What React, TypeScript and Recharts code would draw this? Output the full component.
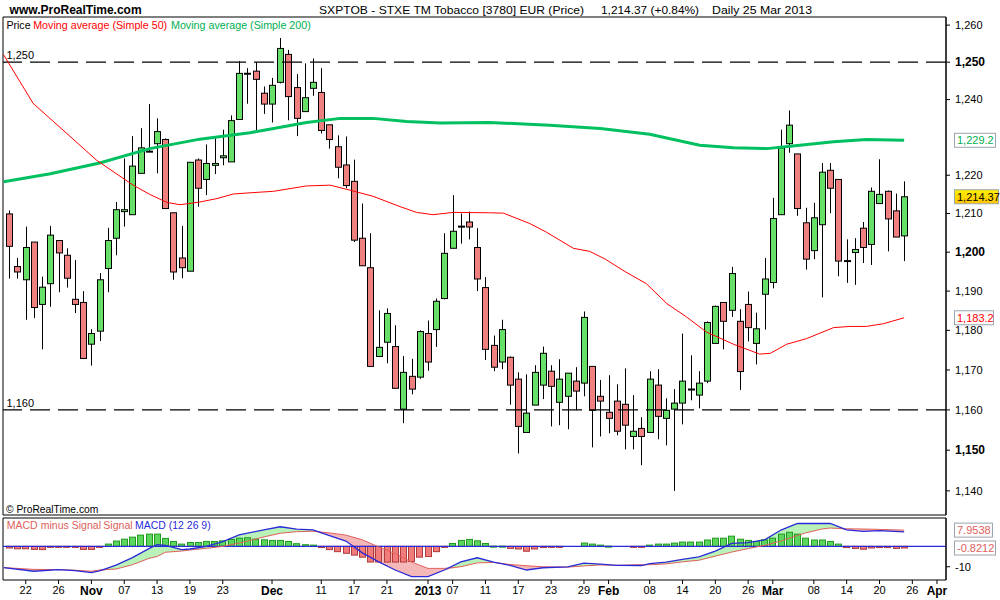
import React from 'react';
import { ComposedChart, Bar, Line, Area, XAxis, YAxis, ReferenceLine, ReferenceArea } from 'recharts';

// ---------- data ----------
const OPENS = [1209.9,1196.3,1192.9,1202.6,1186.6,1191.9,1203.0,1199.2,1187.9,1187.1,
1176.5,1179.8,1195.8,1203.6,1210.5,1209.7,1220.5,1226.2,1228.3,1229.4,
1210.2,1198.5,1195.1,1224.0,1218.9,1222.6,1224.6,1223.5,1234.7,1246.9,
1247.6,1241.7,1238.8,1244.6,1252.1,1243.2,1236.8,1243.0,1241.9,1233.3,
1227.5,1222.7,1218.4,1203.6,1196.0,1173.4,1177.0,1175.9,1160.2,1168.4,
1168.2,1179.2,1180.2,1188.1,1201.0,1206.6,1207.8,1201.2,1190.9,1176.2,
1172.0,1173.2,1167.7,1154.4,1161.2,1166.2,1169.7,1161.9,1163.4,1167.2,
1166.7,1170.9,1163.4,1159.4,1162.2,1161.4,1153.4,1155.4,1154.4,1166.2,
1157.9,1160.2,1161.7,1165.1,1163.7,1167.2,1176.7,1187.1,1185.1,1182.3,
1186.6,1176.7,1189.2,1192.2,1209.7,1228.3,1225.6,1207.6,1200.4,1207.1,
1221.3,1218.9,1197.7,1199.9,1206.2,1202.0,1212.6,1215.8,1210.7,1204.2];
const HIGHS = [1210.8,1198.5,1206.6,1202.6,1193.7,1206.8,1203.0,1201.0,1198.0,1190.0,
1180.3,1194.6,1206.3,1213.0,1224.4,1230.3,1232.4,1238.8,1235.0,1229.7,
1210.2,1206.8,1223.4,1224.4,1228.1,1230.2,1232.0,1235.8,1250.3,1248.4,
1250.0,1243.5,1245.8,1256.5,1253.3,1246.8,1249.7,1251.0,1248.4,1233.3,
1230.5,1230.2,1224.1,1212.6,1204.9,1185.1,1185.6,1181.3,1173.5,1172.8,
1180.0,1182.5,1188.1,1204.9,1214.8,1210.0,1210.5,1206.2,1193.6,1178.7,
1182.7,1173.4,1169.4,1168.9,1171.2,1175.9,1171.2,1172.7,1169.2,1170.7,
1184.8,1170.9,1167.5,1168.7,1166.4,1170.4,1163.7,1158.2,1169.7,1170.2,
1162.9,1165.2,1179.2,1173.7,1169.7,1182.3,1186.3,1187.1,1196.2,1185.4,
1189.9,1184.5,1198.5,1214.1,1232.0,1237.1,1225.6,1211.5,1212.8,1223.2,
1223.2,1218.9,1203.3,1203.6,1207.8,1216.8,1224.2,1216.0,1215.2,1218.4];
const LOWS = [1193.2,1193.2,1182.7,1183.1,1175.2,1186.0,1189.7,1190.9,1184.4,1172.9,
1171.1,1177.3,1189.7,1199.2,1206.6,1209.7,1220.5,1226.2,1220.5,1211.3,
1192.9,1193.3,1195.1,1211.8,1214.8,1220.3,1222.6,1223.5,1234.7,1238.9,
1231.9,1236.2,1233.9,1244.3,1234.5,1230.3,1236.8,1241.0,1231.0,1227.0,
1219.2,1216.6,1202.6,1196.5,1170.9,1173.4,1171.7,1165.4,1156.7,1163.9,
1167.8,1169.8,1175.8,1187.9,1201.0,1202.2,1203.3,1190.0,1172.5,1169.7,
1170.2,1161.3,1149.2,1154.4,1161.2,1162.7,1155.9,1156.2,1155.2,1159.9,
1163.4,1150.7,1153.4,1154.2,1153.7,1150.2,1150.2,1146.3,1154.4,1152.7,
1151.2,1140.0,1156.4,1162.4,1160.4,1166.7,1176.7,1175.2,1183.4,1165.0,
1177.2,1171.4,1180.2,1190.7,1209.7,1225.9,1209.4,1195.5,1198.2,1188.4,
1210.1,1193.8,1192.1,1191.6,1197.2,1196.7,1212.6,1200.2,1203.9,1197.7];
const CLOSES = [1201.5,1194.9,1201.2,1185.8,1191.0,1204.4,1199.8,1193.3,1186.6,1172.9,
1179.2,1192.9,1203.0,1211.0,1211.0,1222.4,1227.2,1226.2,1231.5,1211.3,
1194.9,1196.0,1223.4,1216.6,1223.1,1223.1,1225.1,1234.4,1247.0,1246.9,
1245.4,1238.8,1243.8,1253.7,1240.8,1235.0,1240.5,1244.6,1231.8,1229.4,
1222.1,1217.3,1203.1,1196.5,1170.9,1175.7,1184.3,1165.4,1169.4,1165.2,
1179.7,1172.0,1187.4,1199.7,1205.4,1206.6,1206.5,1193.1,1175.2,1170.7,
1180.2,1166.2,1155.9,1159.2,1169.4,1174.2,1165.9,1167.7,1169.2,1164.7,
1183.3,1159.9,1162.2,1157.9,1154.7,1156.2,1154.7,1153.4,1167.7,1158.4,
1159.9,1161.7,1167.2,1165.1,1166.7,1182.0,1186.1,1182.3,1194.5,1169.6,
1180.7,1180.4,1193.1,1208.7,1227.2,1233.2,1211.3,1198.2,1208.9,1220.8,
1216.6,1197.7,1197.7,1200.7,1201.2,1215.8,1215.0,1208.6,1203.9,1214.37];

const SMA50_IDX = [-0.7,2.9,7.0,10.6,13.1,15.1,17.1,19.2,20.8,23.2,25.3,27.3,29.3,32.2,36.2,39.1,41.5,44.3,47.6,49.6,51.6,54.1,58.5,60.2,63.4,65.4,68.7,70.7,72.6,75.0,77.6,80.1,82.5,84.9,88.2,91.4,92.7,94.7,97.1,100.4,102.4,104.4,106.5,109];
const SMA50_VAL = [1252,1239,1231,1224,1220.3,1217.4,1215,1212.9,1212.3,1213,1213.9,1215.1,1215.4,1215.8,1217.2,1217.4,1216.1,1214.5,1211.8,1210.3,1209.7,1210.3,1210.2,1210.1,1207.4,1205.2,1201,1200.2,1198.2,1195,1191.9,1186.8,1183.4,1179.6,1176.5,1174,1174.2,1176.5,1177.9,1180.7,1181,1181,1181.7,1183.2];

const SMA200_IDX = [-0.7,5.0,11.0,17.1,23.2,29.3,32.2,36.2,40.3,44.3,48.4,52.5,58.5,65.8,72.0,78.0,84.1,88.2,92.3,96.3,100.4,104.4,109];
const SMA200_VAL = [1218.3,1220.4,1223.2,1227,1229.5,1231.2,1232.3,1233.9,1235,1235,1234.2,1233.8,1233.9,1233.2,1232.3,1230.8,1227.9,1227.2,1227,1227.9,1228.8,1229.4,1229.2];

const HIST = [-0.8,-1.2,-1.2,-1.5,-1.6,-0.5,-0.1,-0.1,-0.5,-1.5,
-1.5,-0.5,1.1,2.6,3.5,4.5,5.5,6.0,6.0,3.9,
2.4,1.1,1.9,1.9,2.4,2.4,2.7,3.4,4.0,4.2,
3.5,3.2,2.9,2.9,2.4,1.3,0.8,0.6,-0.6,-1.6,
-2.6,-3.4,-4.3,-5.3,-7.7,-7.7,-7.7,-7.7,-7.7,-7.4,
-5.3,-5.0,-2.6,-0.3,1.4,2.9,3.4,2.7,1.4,0.1,
0.1,-1.0,-1.3,-2.4,-1.3,-0.6,-0.5,-0.5,0,0,
1.6,1.1,0.6,0.1,0,0,-0.5,-0.5,0.6,1.1,
1.1,1.6,2.1,2.1,2.1,3.1,4.0,4.0,5.0,3.5,
2.9,2.4,3.2,4.0,6.0,6.9,6.0,4.0,3.1,3.1,
2.4,1.1,-0.6,-1.0,-1.4,-0.8,-0.6,-0.6,-1.0,-0.82];

const MACD_IDX = [-0.7,3,6,8,10,11,13,15,17,18,19,21,22,24,26,28,31,33,35,37,39,41,43,45,47,49,51,53,55,57,59,61,63,65,68,70,72,74,77,78,80,82,84,86,88,90,92,94,96,97,99,100,102,104,106,109];
const MACD_VAL = [-10.4,-12.2,-11.4,-11.9,-12.9,-12.0,-9.2,-5.5,-1.1,0.8,0.5,-1.6,-1.3,0.0,2.3,5.6,8.1,9.6,8.4,8.1,5.3,2.6,-3.2,-7.6,-11.6,-14.8,-14.8,-11.6,-7.6,-5.6,-7.7,-9.3,-11.6,-10.5,-10.1,-8.2,-8.7,-9.3,-9.4,-8.5,-7.7,-6.4,-5.2,-2.3,1.5,1.8,3.2,8.0,11.3,11.2,11.3,11.2,8.1,7.3,7.7,7.13];
const SIGNAL_VAL = [-10.4,-11.3,-11.4,-11.7,-12.2,-11.6,-11.1,-9.0,-5.9,-5.0,-2.9,-2.3,-1.8,-1.0,0.0,1.6,4.6,6.4,7.2,7.4,6.6,5.5,3.2,-0.3,-3.5,-7.7,-10.8,-10.8,-10.0,-8.1,-7.9,-8.9,-9.5,-10.0,-10.2,-9.6,-9.1,-9.3,-9.0,-9.0,-8.6,-7.6,-6.8,-4.8,-2.8,-1.1,0.5,2.6,5.3,6.6,8.5,9.0,8.6,8.5,8.3,7.95];

// 1,230 is hidden behind the 1,229.2 value box in the reference
const PRICE_TICKS = [1140,1150,1160,1170,1180,1190,1200,1210,1220,1240,1250,1260];
const MACD_TICKS = [-10];
const X_TICK_IDX = [2,6,10,14,18,22,26,32,38,42,46,51,54,58,62,66,70,73,78,82,86,90,93,98,102,106,110,113];
const X_TICK_LABELS = ['22','26','Nov','07','13','19','23','Dec','11','17','21','2013','07','11','17','23','29','Feb','08','14','20','26','Mar','08','14','20','26','Apr'];
const BOLD_LABELS = ['Nov','Dec','2013','Feb','Mar','Apr'];

// ---------- derived tables ----------
const candles = OPENS.map((o, i) => ({ i, o, h: HIGHS[i], l: LOWS[i], c: CLOSES[i], range: [LOWS[i], HIGHS[i]], hist: HIST[i] }));
const sma50Data = SMA50_IDX.map((i, k) => ({ i, v: SMA50_VAL[k] }));
const sma200Data = SMA200_IDX.map((i, k) => ({ i, v: SMA200_VAL[k] }));
const macdData = MACD_IDX.map((i, k) => {
  const m = MACD_VAL[k], s = SIGNAL_VAL[k];
  return { i, macd: m, sig: s, up: m >= s ? [s, m] : [m, m], dn: m < s ? [m, s] : [s, s] };
});

const XMIN = -0.77, XMAX = 114.1;
const PRICE_DOMAIN: [number, number] = [1134.1, 1262.2];
const MACD_DOMAIN: [number, number] = [-16.5, 13.9];

const FONT = '"Liberation Sans", Arial, Helvetica, sans-serif';
const GREEN = '#66e066';
const RED = '#f08080';
const MACD_BLUE = '#2a2ad8';
const SIG_RED = '#e0605a';

// ---------- shapes ----------
function CandleShape(props: any) {
  const { x, y, width, height, payload } = props;
  if (!payload || x == null || y == null) return null;
  const cx = Math.round(x + width / 2);
  const top = Math.min(y, y + height), bot = Math.max(y, y + height);
  const lh = Math.log(payload.h), ll = Math.log(payload.l);
  const span = lh - ll;
  const py = (p: number) => (span > 0 ? top + ((lh - Math.log(p)) / span) * (bot - top) : top);
  const yo = py(payload.o), yc = py(payload.c);
  const bTop = Math.min(yo, yc), bBot = Math.max(yo, yc);
  const up = payload.c >= payload.o;
  const doji = bBot - bTop < 1.2;
  return (
    <g>
      <line x1={cx + 0.5} x2={cx + 0.5} y1={top} y2={bot} stroke="#000" strokeWidth={1} />
      {doji ? (
        <rect x={cx - 3} y={(bTop + bBot) / 2 - 1} width={7} height={2} fill="#000" />
      ) : (
        <rect x={cx - 2.5} y={bTop} width={6} height={bBot - bTop} fill={up ? GREEN : RED} stroke="#000" strokeWidth={1} />
      )}
    </g>
  );
}

function HistShape(props: any) {
  const { x, y, width, height, payload } = props;
  if (!payload || x == null || Math.abs(payload.hist) < 0.05) return null;
  const top = Math.min(y, y + height);
  const h = Math.max(Math.abs(height), 1);
  const up = payload.hist > 0;
  const cx = Math.round(x + width / 2);
  return <rect x={cx - 2.5} y={top} width={6} height={h} fill={up ? '#5cd65c' : '#f07c7c'} stroke={up ? '#1f9a1f' : '#b03a3a'} strokeWidth={1} />;
}

function fmtPrice(v: number) {
  return v.toLocaleString('en-US');
}

function PriceTick(props: any) {
  const { x, y, payload } = props;
  const v = payload.value;
  const bold = v % 50 === 0;
  return (
    <text x={x} y={y} dy="0.355em" textAnchor="start" fontSize={bold ? 12 : 11} fontWeight={bold ? 'bold' : 'normal'} fontFamily={FONT} fill="#000">
      {fmtPrice(v)}
    </text>
  );
}

function MacdTick(props: any) {
  const { x, y, payload } = props;
  return (
    <text x={x} y={y} dy="0.355em" textAnchor="start" fontSize={11} fontFamily={FONT} fill="#000">
      {String(payload.value)}
    </text>
  );
}

function XTick(props: any) {
  const { x, y, payload } = props;
  const k = X_TICK_IDX.indexOf(payload.value);
  const label = k >= 0 ? X_TICK_LABELS[k] : '';
  const bold = BOLD_LABELS.indexOf(label) >= 0;
  return (
    <text x={x} y={y} dy="0.71em" textAnchor="middle" fontSize={bold ? 12 : 11} fontWeight={bold ? 'bold' : 'normal'} fontFamily={FONT} fill="#000">
      {label}
    </text>
  );
}

function ValueBox(props: any) {
  const { viewBox, text, color, bg, boxWidth } = props;
  if (!viewBox) return null;
  const x = viewBox.x + viewBox.width + 8.5;
  const y = viewBox.y;
  return (
    <g>
      <rect x={x} y={y - 7} width={boxWidth} height={14} fill={bg} stroke="#9aa5ae" strokeWidth={1} />
      <text x={x + 2.5} y={y + 4} fontSize={11} fontFamily={FONT} fill={color}>{text}</text>
    </g>
  );
}

function LeftLabel(props: any) {
  const { viewBox, text } = props;
  if (!viewBox) return null;
  return <text x={viewBox.x + 3.5} y={viewBox.y - 3} fontSize={11} fontFamily={FONT} fill="#000">{text}</text>;
}

// ---------- app ----------
export default function App() {
  return (
    <div style={{ position: 'absolute', left: 0, top: 0, width: 1000, height: 600, background: '#fff', overflow: 'hidden' }}>
      <svg width={0} height={0} style={{ position: 'absolute' }}>
        <defs>
          <linearGradient id="yellowBox" x1="0" y1="0" x2="0" y2="1">
            <stop offset="0%" stopColor="#fff200" />
            <stop offset="100%" stopColor="#ffc400" />
          </linearGradient>
        </defs>
      </svg>
      <div style={{ position: 'absolute', left: 0, top: 0 }}>
        <ComposedChart width={1000} height={520} data={candles} margin={{ top: 17, right: 0, bottom: 5, left: 3 }}>
          <XAxis type="number" dataKey="i" domain={[XMIN, XMAX]} allowDataOverflow hide />
          <YAxis
            orientation="right"
            scale="log"
            domain={PRICE_DOMAIN}
            allowDataOverflow
            ticks={PRICE_TICKS}
            interval={0}
            width={54}
            axisLine={{ stroke: '#000' }}
            tickLine={{ stroke: '#000' }}
            tickSize={4}
            tickMargin={5}
            tick={<PriceTick />}
          />
          <ReferenceArea x1={XMIN} x2={XMAX} y1={PRICE_DOMAIN[0]} y2={PRICE_DOMAIN[1]} fill="none" stroke="#000" strokeWidth={1} ifOverflow="visible" />
          <ReferenceLine y={1250} stroke="#000" strokeWidth={1.2} strokeDasharray="20 8" label={<LeftLabel text="1,250" />} />
          <ReferenceLine y={1160} stroke="#000" strokeWidth={1.2} strokeDasharray="20 8" label={<LeftLabel text="1,160" />} />
          <Line data={sma200Data} dataKey="v" stroke="#00c060" strokeWidth={3} dot={false} isAnimationActive={false} />
          <Line data={sma50Data} dataKey="v" stroke="#ff0000" strokeWidth={1} dot={false} isAnimationActive={false} />
          <Bar dataKey="range" barSize={6} shape={<CandleShape />} isAnimationActive={false} />
          <ReferenceLine y={1229.2} stroke="none" strokeOpacity={0} label={<ValueBox text="1,229.2" color="#00b050" bg="#fff" boxWidth={41} />} />
          <ReferenceLine y={1214.37} stroke="none" strokeOpacity={0} label={<ValueBox text="1,214.37" color="#000" bg="url(#yellowBox)" boxWidth={44} />} />
          <ReferenceLine y={1183.2} stroke="none" strokeOpacity={0} label={<ValueBox text="1,183.2" color="#ff0000" bg="#fff" boxWidth={39} />} />
        </ComposedChart>
      </div>
      <div style={{ position: 'absolute', left: 0, top: 510 }}>
        <ComposedChart width={1000} height={90} data={candles} margin={{ top: 8, right: 0, bottom: 0, left: 3 }}>
          <XAxis
            type="number"
            dataKey="i"
            domain={[XMIN, XMAX]}
            allowDataOverflow
            ticks={X_TICK_IDX}
            interval={0}
            height={20}
            axisLine={false}
            tickLine={{ stroke: '#000' }}
            tickSize={4}
            tick={<XTick />}
          />
          <YAxis
            orientation="right"
            domain={MACD_DOMAIN}
            allowDataOverflow
            ticks={MACD_TICKS}
            interval={0}
            width={54}
            axisLine={{ stroke: '#000' }}
            tickLine={{ stroke: '#000' }}
            tickSize={4}
            tickMargin={5}
            tick={<MacdTick />}
          />
          <Area data={macdData} dataKey="up" stroke="none" fill="#b8f2b8" fillOpacity={1} isAnimationActive={false} />
          <Area data={macdData} dataKey="dn" stroke="none" fill="#f5b8b8" fillOpacity={1} isAnimationActive={false} />
          <Bar dataKey="hist" barSize={6} shape={<HistShape />} isAnimationActive={false} />
          <ReferenceLine y={0} stroke={MACD_BLUE} strokeWidth={1.3} />
          <Line data={macdData} dataKey="sig" stroke={SIG_RED} strokeWidth={1} dot={false} isAnimationActive={false} />
          <Line data={macdData} dataKey="macd" stroke={MACD_BLUE} strokeWidth={1.3} dot={false} isAnimationActive={false} />
          <ReferenceArea x1={XMIN} x2={XMAX} y1={MACD_DOMAIN[0]} y2={MACD_DOMAIN[1]} fill="none" stroke="#000" strokeWidth={1} ifOverflow="visible" />
          <ReferenceLine y={7.9538} stroke="none" strokeOpacity={0} label={<ValueBox text="7.9538" color={SIG_RED} bg="#fff" boxWidth={38} />} />
          <ReferenceLine y={-0.8212} stroke="none" strokeOpacity={0} label={<ValueBox text="-0.8212" color={SIG_RED} bg="#fff" boxWidth={41} />} />
        </ComposedChart>
      </div>
      <svg width={1000} height={600} style={{ position: 'absolute', left: 0, top: 0, pointerEvents: 'none' }}>
        <g fontFamily={FONT} fill="#000">
          <text x={9.6} y={14} fontSize={12} fontWeight="bold" textLength={132} lengthAdjust="spacingAndGlyphs">www.ProRealTime.com</text>
          <text x={319} y={14} fontSize={11.5} textLength={265} lengthAdjust="spacingAndGlyphs">SXPTOB - STXE TM Tobacco [3780] EUR (Price)</text>
          <text x={601} y={14} fontSize={11.5} textLength={98} lengthAdjust="spacingAndGlyphs">1,214.37 (+0.84%)</text>
          <text x={712} y={14} fontSize={11.5} textLength={100} lengthAdjust="spacingAndGlyphs">Daily  25 Mar 2013</text>
          <text x={6.4} y={29} fontSize={11} textLength={24.2} lengthAdjust="spacingAndGlyphs">Price</text>
          <text x={33.2} y={29} fontSize={11} fill="#ff0000" textLength={134} lengthAdjust="spacingAndGlyphs">Moving average (Simple 50)</text>
          <text x={171} y={29} fontSize={11} fill="#00b050" textLength={139.8} lengthAdjust="spacingAndGlyphs">Moving average (Simple 200)</text>
          <text x={6} y={513} fontSize={11} textLength={92.3} lengthAdjust="spacingAndGlyphs">© ProRealTime.com</text>
          <text x={6.7} y={529} fontSize={11} fill={SIG_RED} textLength={94.3} lengthAdjust="spacingAndGlyphs">MACD minus Signal</text>
          <text x={103.3} y={529} fontSize={11} fill={SIG_RED} textLength={29.4} lengthAdjust="spacingAndGlyphs">Signal</text>
          <text x={135} y={529} fontSize={11} fill={MACD_BLUE} textLength={75.7} lengthAdjust="spacingAndGlyphs">MACD (12 26 9)</text>
        </g>
      </svg>
    </div>
  );
}
